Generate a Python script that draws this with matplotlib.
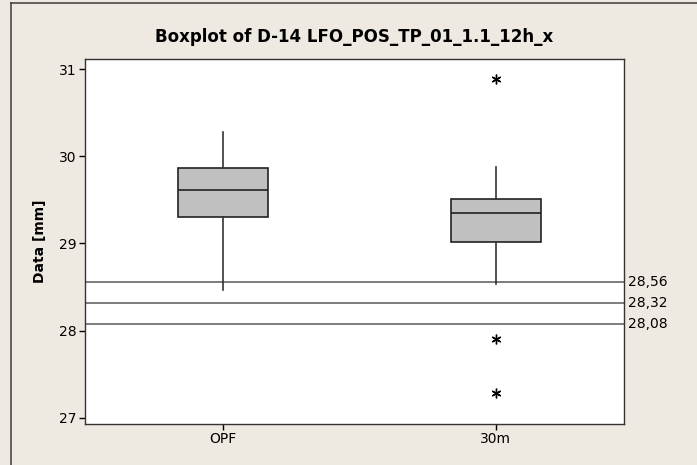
import matplotlib
matplotlib.use("Agg")
import matplotlib.pyplot as plt
from matplotlib.lines import Line2D

# Groups and their box statistics (mm)
groups = ["OPF", "30m"]
whisker_low = [28.47, 28.54]
q1 = [29.30, 29.02]
median = [29.61, 29.35]
q3 = [29.87, 29.51]
whisker_high = [30.28, 29.88]
outliers = [[], [30.89, 27.90, 27.28]]

# Reference limits drawn as horizontal lines
ref_values = [28.56, 28.32, 28.08]
ref_labels = ["28,56", "28,32", "28,08"]

y_ticks = [27, 28, 29, 30, 31]

bg = "#EEEAE1"
plt.rcParams["font.family"] = ["DejaVu Sans"]

fig = plt.figure(figsize=(6.97, 4.65), dpi=100, facecolor=bg)
ax = fig.add_axes([85 / 697, 1 - 424 / 465, (624 - 85) / 697, (424 - 59) / 465])
ax.set_facecolor("white")

# Outer frame of the graph window: left and top edges
fx, fy = 11 / 697, 1 - 3 / 465
fig.add_artist(Line2D([fx, fx], [0, fy], transform=fig.transFigure,
                      color="#4a4a4a", linewidth=1.2))
fig.add_artist(Line2D([fx, 1], [fy, fy], transform=fig.transFigure,
                      color="#4a4a4a", linewidth=1.2))

stats = []
for i, name in enumerate(groups):
    stats.append(dict(label=name, whislo=whisker_low[i], q1=q1[i], med=median[i],
                      q3=q3[i], whishi=whisker_high[i], fliers=outliers[i]))

positions = [1, 2]
ax.bxp(stats, positions=positions, widths=0.33, patch_artist=True, showcaps=False,
       boxprops=dict(facecolor="#C0C0C0", edgecolor="#222222", linewidth=1.2),
       medianprops=dict(color="#222222", linewidth=1.2),
       whiskerprops=dict(color="#333333", linewidth=1.2),
       flierprops=dict(marker=(6, 2, 0), markersize=7, markeredgecolor="black",
                       markeredgewidth=1.0, linestyle="none"))

for v, lab in zip(ref_values, ref_labels):
    ax.axhline(v, color="#666666", linewidth=1.2, zorder=1)
    ax.annotate(lab, xy=(1.0, v), xycoords=("axes fraction", "data"),
                xytext=(3, 0), textcoords="offset points", va="center", ha="left",
                fontsize=10, color="black")

ax.set_xlim(0.495, 2.47)
ax.set_ylim(26.93, 31.115)
ax.set_yticks(y_ticks)
ax.set_yticklabels([str(t) for t in y_ticks])
ax.set_xticks(positions)
ax.set_xticklabels(groups)
ax.tick_params(axis="both", direction="out", length=4, width=1, labelsize=10,
               colors="black", pad=2)
for s in ax.spines.values():
    s.set_color("#333333")
    s.set_linewidth(1.0)

ax.set_ylabel("Data [mm]", fontsize=10, fontweight="bold", labelpad=9)
ax.set_title("Boxplot of D-14 LFO_POS_TP_01_1.1_12h_x", fontsize=12,
             fontweight="bold", pad=12)

fig.savefig("out.png", dpi=100, facecolor=bg)
